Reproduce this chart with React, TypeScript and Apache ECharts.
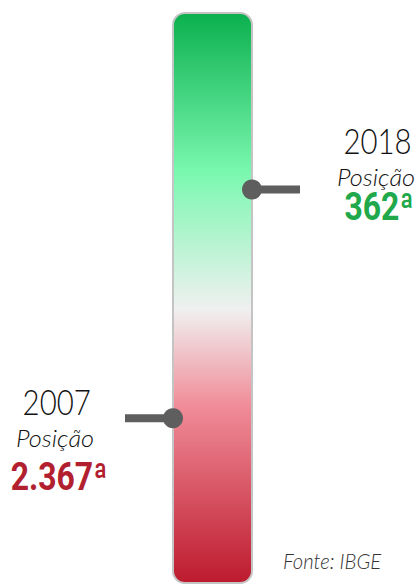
import React, { useEffect, useRef } from "react";
import * as echarts from "echarts";

// ---- data ----
const years = ["2007", "2018"];
const positions = [2367, 362];
const positionLabels = ["2.367ª", "362ª"];
const labelColors = ["#b22030", "#20a84b"];
const sides = ["left", "right"];
const positionWord = "Posição";
const sourceText = "Fonte: IBGE";

// ---- layout ----
const W = 418;
const H = 585;
const BAR_LEFT = 173;
const BAR_RIGHT = 252;
const BAR_TOP = 13;
const BAR_BOTTOM = 583;

export default function App() {
  const ref = useRef<HTMLDivElement>(null);
  useEffect(() => {
    document.body.style.margin = "0";
    const chart = echarts.init(ref.current as HTMLDivElement, null, { renderer: "svg" });
    const data = years.map((y, i) => [i, positions[i]]);
    chart.setOption({
      animation: false,
      grid: { left: 0, right: 0, top: BAR_TOP, bottom: H - BAR_BOTTOM },
      xAxis: { type: "category", data: years, show: false },
      yAxis: { type: "log", logBase: 10, inverse: true, min: 85, max: 9150, show: false },
      graphic: [
        {
          type: "rect",
          z: 0,
          shape: {
            x: BAR_LEFT,
            y: BAR_TOP,
            width: BAR_RIGHT - BAR_LEFT,
            height: BAR_BOTTOM - BAR_TOP,
            r: 12,
          },
          style: {
            fill: new echarts.graphic.LinearGradient(0, 0, 0, 1, [
              { offset: 0, color: "#0bb04e" },
              { offset: 0.28, color: "#7af8b0" },
              { offset: 0.52, color: "#f0f0f0" },
              { offset: 0.69, color: "#f08c98" },
              { offset: 1, color: "#bd1a2e" },
            ]),
            stroke: "#c4c4c4",
            lineWidth: 2,
          },
        },
        {
          type: "text",
          z: 5,
          x: 283,
          y: 561,
          scaleX: 0.92,
          style: {
            text: sourceText,
            fill: "#333333",
            font: "italic 300 22px Lato, 'Open Sans', sans-serif",
            verticalAlign: "middle",
            align: "left",
          },
        },
      ],
      series: [
        {
          type: "custom",
          z: 10,
          data,
          renderItem: (params: any, api: any) => {
            const i = params.dataIndex;
            const pt = api.coord([api.value(0), api.value(1)]);
            const y = pt[1];
            const right = sides[i] === "right";
            const cx = right ? BAR_RIGHT : BAR_LEFT;
            const lineEnd = right ? 300 : 125;
            const xs = right ? [377.5, 376, 379] : [56.7, 55, 59];
            const offs = right ? [-49, -13, 17] : [-16.7, 20, 58.7];
            return {
              type: "group",
              children: [
                {
                  type: "line",
                  shape: { x1: cx, y1: y, x2: lineEnd, y2: y },
                  style: { stroke: "#5e5e5e", lineWidth: 8, lineCap: "butt" },
                },
                {
                  type: "circle",
                  shape: { cx, cy: y, r: 10 },
                  style: { fill: "#5e5e5e" },
                },
                {
                  type: "text",
                  x: xs[0],
                  y: y + offs[0],
                  scaleX: 0.84,
                  style: {
                    text: years[i],
                    fill: "#111111",
                    font: "300 35px Lato, 'Open Sans', sans-serif",
                    align: "center",
                    verticalAlign: "middle",
                  },
                },
                {
                  type: "text",
                  x: xs[1],
                  y: y + offs[1],
                  scaleX: 1.1,
                  style: {
                    text: positionWord,
                    fill: "#111111",
                    font: "italic 300 23px Lato, 'Open Sans', sans-serif",
                    align: "center",
                    verticalAlign: "middle",
                  },
                },
                {
                  type: "text",
                  x: xs[2],
                  y: y + offs[2],
                  scaleX: 0.84,
                  style: {
                    text: positionLabels[i],
                    fill: labelColors[i],
                    font: "bold 38px Roboto, 'Noto Sans', sans-serif",
                    align: "center",
                    verticalAlign: "middle",
                  },
                },
              ],
            };
          },
        },
      ],
    });
    return () => chart.dispose();
  }, []);
  return (
    <div
      ref={ref}
      style={{ position: "fixed", left: 0, top: 0, width: W, height: H, background: "#ffffff" }}
    />
  );
}
